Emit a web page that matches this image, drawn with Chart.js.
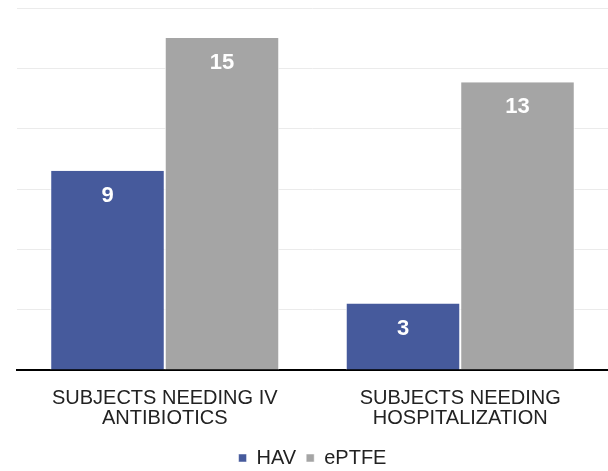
<!DOCTYPE html>
<html>
<head>
<meta charset="utf-8">
<script src="https://cdn.jsdelivr.net/npm/chart.js@4.4.1/dist/chart.umd.min.js"></script>
<style>
  html, body { margin: 0; padding: 0; background: #fff; overflow: hidden; }
  #wrap { width: 608px; height: 478px; position: relative; }
</style>
</head>
<body>
<div id="wrap"><canvas id="chart"></canvas></div>
<script>
// data
const categories = [["SUBJECTS NEEDING IV", "ANTIBIOTICS"], ["SUBJECTS NEEDING", "HOSPITALIZATION"]];
const seriesNames = ["HAV", "ePTFE"];
const havValues = [9, 3];
const eptfeValues = [15, 13];
const seriesColors = ["#465A9C", "#A5A5A5"];

const FONT = "'Liberation Sans', Arial, sans-serif";

// white value labels just inside the top of each bar
const barLabels = {
    id: 'barLabels',
    afterDatasetsDraw(chart) {
        const ctx = chart.ctx;
        ctx.save();
        ctx.fillStyle = '#fff';
        ctx.font = 'bold 22px ' + FONT;
        ctx.textAlign = 'center';
        ctx.textBaseline = 'middle';
        chart.data.datasets.forEach(function (ds, i) {
            chart.getDatasetMeta(i).data.forEach(function (bar, j) {
                ctx.fillText(ds.data[j], bar.x, bar.y + 25);
            });
        });
        ctx.restore();
    }
};

new Chart(document.getElementById('chart'), {
    type: 'bar',
    data: {
        labels: categories,
        datasets: [{
            label: seriesNames[0],
            data: havValues,
            backgroundColor: seriesColors[0],
            borderColor: '#fff',
            borderWidth: {left: 1, right: 1, top: 0, bottom: 0}
        }, {
            label: seriesNames[1],
            data: eptfeValues,
            backgroundColor: seriesColors[1],
            borderColor: '#fff',
            borderWidth: {left: 1, right: 1, top: 0, bottom: 0}
        }]
    },
    options: {
        responsive: true,
        maintainAspectRatio: false,
        animation: false,
        datasets: {bar: {categoryPercentage: 0.775, barPercentage: 1}},
        layout: {padding: {top: 8, left: 17, right: 0, bottom: 0}},
        plugins: {
            tooltip: {enabled: false},
            legend: {
                position: 'bottom',
                labels: {
                    boxWidth: 8,
                    boxHeight: 8,
                    padding: 10,
                    color: '#222',
                    font: {family: FONT, size: 20}
                }
            }
        },
        scales: {
            x: {
                grid: {display: false},
                border: {display: true, color: '#000', width: 2},
                ticks: {
                    color: '#222',
                    padding: 10,
                    maxRotation: 0,
                    font: {family: FONT, size: 20, lineHeight: 1.0}
                }
            },
            y: {
                min: 0,
                max: 16.35,
                border: {display: false},
                grid: {color: '#EBEBEB', lineWidth: 1, drawTicks: false},
                ticks: {display: false, stepSize: 2.725}
            }
        }
    },
    plugins: [barLabels]
});
</script>
</body>
</html>
